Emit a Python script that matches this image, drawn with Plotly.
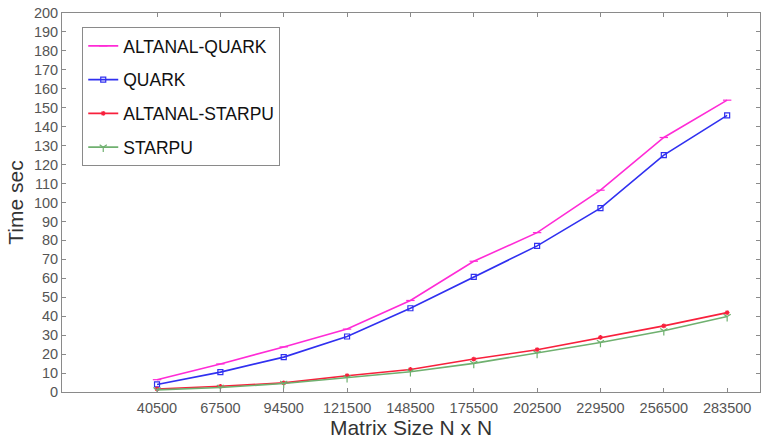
import plotly.graph_objects as go

sizes = [40500, 67500, 94500, 121500, 148500, 175500, 202500, 229500, 256500, 283500]
altanal_quark = [6.5, 14.8, 23.8, 33.2, 48.3, 69.0, 84.1, 106.5, 134.3, 154.0]
quark = [4.0, 10.5, 18.4, 29.3, 44.2, 60.8, 77.1, 97.0, 125.0, 146.0]
altanal_starpu = [1.6, 3.0, 4.8, 8.6, 11.9, 17.4, 22.3, 28.8, 34.9, 41.9]
starpu = [1.1, 2.4, 4.5, 7.5, 10.7, 15.1, 20.4, 26.1, 32.3, 39.8]
y_ticks = list(range(0, 201, 10))

series = [
    ("ALTANAL-QUARK", altanal_quark, "#ff2bd6", "line-ew", 6),
    ("QUARK", quark, "#3030f0", "square-open", 5),
    ("ALTANAL-STARPU", altanal_starpu, "#f8203c", "asterisk-open", 4),
    ("STARPU", starpu, "#6fb06f", "y-down-open", 6),
]

fig = go.Figure()
for name, vals, color, sym, ms in series:
    fig.add_trace(go.Scatter(
        x=sizes, y=vals, name=name, mode="lines+markers",
        legendgroup=name,
        line=dict(color=color, width=1.6),
        marker=dict(symbol=sym, size=ms, color=color, line=dict(color=color, width=1.2)),
    ))

font_family = "Liberation Sans, Arial, sans-serif"
axis_common = dict(
    showgrid=False, zeroline=False, showline=True, linecolor="#8a8a8a", linewidth=1,
    mirror="ticks", ticks="inside", ticklen=4, tickcolor="#8a8a8a",
    tickfont=dict(family=font_family, size=14.5, color="#555555"),
)

fig.update_layout(
    width=766, height=439,
    margin=dict(l=62, r=6, t=13, b=47),
    paper_bgcolor="white", plot_bgcolor="white",
    xaxis=dict(range=[0, 297500], tickvals=sizes, ticktext=[str(s) for s in sizes],
               ticklabelstandoff=3,
               title=dict(text="Matrix Size N x N", standoff=2,
                          font=dict(family=font_family, size=21, color="#333333")),
               **axis_common),
    yaxis=dict(range=[0, 200], tickvals=y_ticks, ticktext=[str(v) for v in y_ticks],
               title=dict(text="Time sec", standoff=4,
                          font=dict(family=font_family, size=21, color="#333333")),
               **axis_common),
    legend=dict(x=0.029, y=0.963, xanchor="left", yanchor="top",
                bordercolor="#8a8a8a", borderwidth=1, bgcolor="white",
                font=dict(family=font_family, size=17.5, color="#111111"),
                tracegroupgap=8),
    showlegend=True,
)

fig.write_html("out.html")
